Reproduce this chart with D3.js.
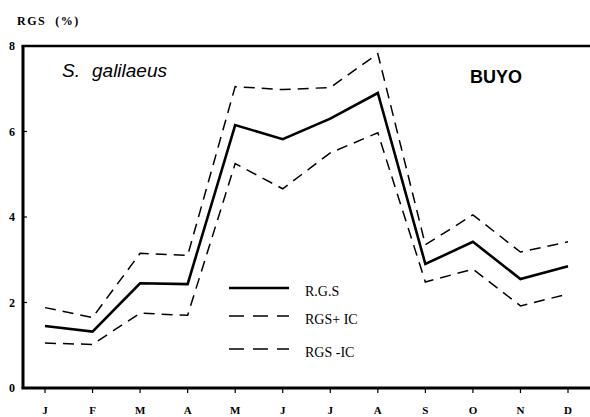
<!DOCTYPE html>
<html>
<head>
<meta charset="utf-8">
<script src="https://cdn.jsdelivr.net/npm/d3@7"></script>
<style>
body { margin: 0; background: #fff; }
</style>
</head>
<body>
<div id="chart-area"></div>
<script>
// data
var months = ["J","F","M","A","M","J","J","A","S","O","N","D"];
var rgs    = [1.45, 1.32, 2.45, 2.43, 6.15, 5.82, 6.3, 6.9, 2.9, 3.42, 2.55, 2.85];
var rgsUp  = [1.88, 1.65, 3.15, 3.1, 7.05, 6.98, 7.03, 7.82, 3.35, 4.05, 3.18, 3.42];
var rgsLow = [1.05, 1.02, 1.75, 1.7, 5.25, 4.66, 5.5, 5.97, 2.48, 2.78, 1.92, 2.2];
var yTicks = [0, 2, 4, 6, 8];

var W = 590, H = 417;
var margin = { left: 23, right: 0, top: 46, bottom: 29 };
var width = W - margin.left - margin.right,
    height = H - margin.top - margin.bottom;

var svg = d3.select("#chart-area")
    .append("svg")
        .attr("width", W)
        .attr("height", H);

var g = svg.append("g")
    .attr("transform", "translate(" + margin.left + "," + margin.top + ")");

// X Scale
var x = d3.scalePoint()
    .domain(d3.range(months.length))
    .range([22, 545]);

// Y Scale
var y = d3.scaleLinear()
    .domain([0, 8])
    .range([height, 0]);

// Y axis ticks and labels
g.selectAll(".ytick")
    .data(yTicks)
    .enter().append("line")
        .attr("x1", 0).attr("x2", 4)
        .attr("y1", function(d){ return y(d); })
        .attr("y2", function(d){ return y(d); })
        .attr("stroke", "#000").attr("stroke-width", 1.2);

g.selectAll(".ylab")
    .data(yTicks)
    .enter().append("text")
        .attr("x", -11)
        .attr("y", function(d){ return y(d) + 4; })
        .attr("text-anchor", "middle")
        .attr("font-family", "Liberation Serif, serif")
        .attr("font-weight", "bold")
        .attr("font-size", "12px")
        .text(function(d){ return d; });

// X ticks and labels
g.selectAll(".xtick")
    .data(months)
    .enter().append("line")
        .attr("x1", function(d, i){ return x(i); })
        .attr("x2", function(d, i){ return x(i); })
        .attr("y1", height).attr("y2", height + 5)
        .attr("stroke", "#000").attr("stroke-width", 1.2);

g.selectAll(".xlab")
    .data(months)
    .enter().append("text")
        .attr("x", function(d, i){ return x(i); })
        .attr("y", height + 26)
        .attr("text-anchor", "middle")
        .attr("font-family", "Liberation Serif, serif")
        .attr("font-weight", "bold")
        .attr("font-size", "11px")
        .text(function(d){ return d; });

// frame: left, bottom and top lines
g.append("line").attr("x1", 0).attr("x2", 0).attr("y1", 0).attr("y2", height)
    .attr("stroke", "#000").attr("stroke-width", 3);
g.append("line").attr("x1", -1.5).attr("x2", width).attr("y1", height).attr("y2", height)
    .attr("stroke", "#000").attr("stroke-width", 3);
g.append("line").attr("x1", -1.5).attr("x2", width).attr("y1", 0).attr("y2", 0)
    .attr("stroke", "#000").attr("stroke-width", 2.5);

// lines
var line = d3.line()
    .x(function(d, i){ return x(i); })
    .y(function(d){ return y(d); });

var series = [
    { values: rgsUp,  width: 1.5, dash: "11,7" },
    { values: rgsLow, width: 1.5, dash: "11,7" },
    { values: rgs,    width: 2.6, dash: null }
];

g.selectAll(".series")
    .data(series)
    .enter().append("path")
        .attr("d", function(d){ return line(d.values); })
        .attr("fill", "none")
        .attr("stroke", "#000")
        .attr("stroke-width", function(d){ return d.width; })
        .attr("stroke-dasharray", function(d){ return d.dash; })
        .attr("stroke-linejoin", "miter");

// legend
var legend = [
    { label: "R.G.S",   width: 2.6, dash: null,   dy: 0 },
    { label: "RGS+ IC", width: 1.5, dash: "15,9", dy: 28 },
    { label: "RGS -IC", width: 1.5, dash: "15,9", dy: 61 }
];

var lg = svg.append("g").attr("transform", "translate(229,288)");
lg.selectAll("line")
    .data(legend)
    .enter().append("line")
        .attr("x1", 0).attr("x2", 60)
        .attr("y1", function(d){ return d.dy; })
        .attr("y2", function(d){ return d.dy; })
        .attr("stroke", "#000")
        .attr("stroke-width", function(d){ return d.width; })
        .attr("stroke-dasharray", function(d){ return d.dash; });
lg.selectAll("text")
    .data(legend)
    .enter().append("text")
        .attr("x", 76)
        .attr("y", function(d){ return d.dy + 8; })
        .attr("font-family", "Liberation Serif, serif")
        .attr("font-size", "14px")
        .text(function(d){ return d.label; });

// titles
svg.append("text")
    .attr("x", 17).attr("y", 25)
    .attr("font-family", "Liberation Serif, serif")
    .attr("font-weight", "bold")
    .attr("font-size", "12px")
    .attr("letter-spacing", "1.5px")
    .style("white-space", "pre")
    .text("RGS  (%)");

var sub = svg.append("text")
    .attr("y", 77)
    .attr("font-family", "Liberation Sans, Arial, sans-serif")
    .attr("font-style", "italic")
    .attr("font-size", "19px");
sub.append("tspan").attr("x", 62).text("S.");
sub.append("tspan").attr("x", 92).text("galilaeus");

svg.append("text")
    .attr("x", 470).attr("y", 83)
    .attr("font-family", "Liberation Sans, Arial, sans-serif")
    .attr("font-weight", "bold")
    .attr("font-size", "18px")
    .text("BUYO");
</script>
</body>
</html>
